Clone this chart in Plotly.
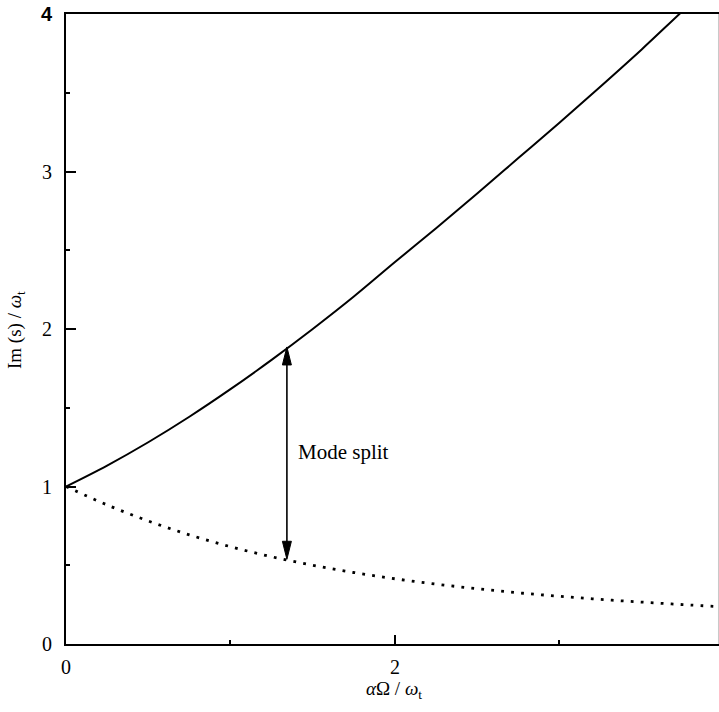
import plotly.graph_objects as go

# values
x_vals = [0.0, 0.25, 0.5, 0.75, 1.0, 1.25, 1.5, 1.75, 2.0, 2.25, 2.5, 2.75, 3.0, 3.25, 3.5, 3.75, 4.0]
upper = [1.000, 1.133, 1.281, 1.443, 1.618, 1.804, 2.000, 2.206, 2.425, 2.640, 2.860, 3.085, 3.310, 3.540, 3.775, 4.020, 4.260]
lower = [1.000, 0.883, 0.781, 0.693, 0.618, 0.554, 0.500, 0.454, 0.414, 0.380, 0.351, 0.325, 0.303, 0.283, 0.266, 0.250, 0.236]

x_ticks = [0, 2]
y_ticks = [0, 1, 2, 3, 4]

arrow_x = 1.343
arrow_top = 1.886
arrow_bottom = 0.538
label_text = "Mode split"

SERIF = "Liberation Serif"
W, H = 719, 712
L, R, T, B = 66, 0, 14, 68
x_max = 3.97
y_max = 4.0
px_x = (W - L - R) / x_max
px_y = (H - T - B) / y_max

fig = go.Figure()
fig.add_trace(go.Scatter(x=x_vals, y=upper, mode="lines", line=dict(color="black", width=2, shape="spline"),
                         showlegend=False, hoverinfo="skip"))
fig.add_trace(go.Scatter(x=x_vals, y=lower, mode="lines", line=dict(color="black", width=2.8, dash="2.8px,7.2px", shape="spline"),
                         showlegend=False, hoverinfo="skip"))

# arrow shaft
fig.add_trace(go.Scatter(x=[arrow_x, arrow_x], y=[arrow_bottom + 0.05, arrow_top - 0.05], mode="lines",
                         line=dict(color="black", width=1.6), showlegend=False, hoverinfo="skip"))
# arrow heads (size in pixels converted to data units)
hl = 18 / px_y
hw = 4.5 / px_x
fig.add_trace(go.Scatter(x=[arrow_x, arrow_x - hw, arrow_x + hw, arrow_x],
                         y=[arrow_top, arrow_top - hl, arrow_top - hl, arrow_top],
                         mode="lines", fill="toself", fillcolor="black", line=dict(color="black", width=1),
                         showlegend=False, hoverinfo="skip"))
fig.add_trace(go.Scatter(x=[arrow_x, arrow_x - hw, arrow_x + hw, arrow_x],
                         y=[arrow_bottom, arrow_bottom + hl, arrow_bottom + hl, arrow_bottom],
                         mode="lines", fill="toself", fillcolor="black", line=dict(color="black", width=1),
                         showlegend=False, hoverinfo="skip"))

fig.add_annotation(x=arrow_x + 9 / px_x, y=1.22, text=label_text, showarrow=False, xanchor="left", yanchor="middle",
                   font=dict(family=SERIF, size=21, color="black"))

# axis titles
fig.add_annotation(xref="paper", yref="paper", x=-(L - 16) / (W - L - R), y=(H - B - 330) / (H - T - B),
                   text="Im (s) / <i>ω</i><sub>t</sub>", textangle=-90, showarrow=False,
                   xanchor="center", yanchor="middle", font=dict(family=SERIF, size=19, color="black"))
fig.add_annotation(xref="paper", yref="paper", x=(394 - L) / (W - L - R), y=-(690 - (H - B)) / (H - T - B),
                   text="<i>α</i>Ω / <i>ω</i><sub>t</sub>", showarrow=False,
                   xanchor="center", yanchor="middle", font=dict(family=SERIF, size=19, color="black"))
# partially visible "4" tick label at the cropped right edge
fig.add_annotation(xref="paper", yref="paper", x=4 / x_max, y=-(665 - (H - B)) / (H - T - B),
                   text="4", showarrow=False, xanchor="center", yanchor="middle",
                   font=dict(family=SERIF, size=20, color="black"))

# faint line at the cropped right edge
fig.add_shape(type="line", xref="paper", yref="paper", x0=0.9992, x1=0.9992, y0=0, y1=1,
              line=dict(color="#c8c8c8", width=1))

y_text = [str(v) for v in y_ticks]
y_text[-1] = "<b><span style='font-family:Liberation Sans'>4</span></b>"

fig.update_xaxes(range=[0, x_max], tickvals=x_ticks, ticktext=[str(v) for v in x_ticks],
                 ticks="inside", ticklen=9, tickwidth=1.5, tickcolor="black",
                 minor=dict(dtick=1, ticks="inside", ticklen=4, tickwidth=1.5, tickcolor="black"),
                 showline=True, linewidth=2, linecolor="black", mirror=True,
                 showgrid=False, zeroline=False, ticklabelstandoff=4,
                 tickfont=dict(family=SERIF, size=20, color="black"))
fig.update_yaxes(range=[0, y_max], tickvals=y_ticks, ticktext=y_text,
                 ticks="inside", ticklen=10, tickwidth=1.5, tickcolor="black",
                 minor=dict(dtick=0.5, ticks="inside", ticklen=4, tickwidth=1.5, tickcolor="black"),
                 showline=True, linewidth=2, linecolor="black",
                 showgrid=False, zeroline=False, ticklabelstandoff=8,
                 tickfont=dict(family=SERIF, size=20, color="black"))

fig.update_layout(width=W, height=H, margin=dict(l=L, r=R, t=T, b=B),
                  paper_bgcolor="white", plot_bgcolor="white")

fig.write_html("out.html")
